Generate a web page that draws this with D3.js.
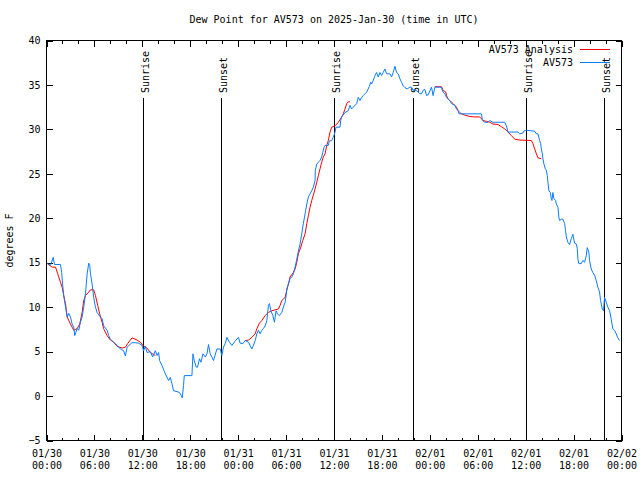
<!DOCTYPE html>
<html>
<head>
<meta charset="utf-8">
<script src="https://cdn.jsdelivr.net/npm/d3@7"></script>
<style>
	body { margin: 0; background: #fff; }
	svg text { font-family: "DejaVu Sans Mono", monospace; font-size: 10px; fill: #000; }
</style>
</head>
<body>
<div id="chart"></div>
<script>
// hours since 2025-01-30 00:00 UTC
const START = Date.UTC(2025, 0, 30);

const obsHours = [0.09, 0.5, 0.84, 1.0, 1.75, 1.9, 2.0, 2.16, 2.25, 2.5, 2.59, 2.79, 3.0, 3.21, 3.41, 3.54, 3.84, 4.04, 4.25, 4.46,
	4.66, 4.88, 5.09, 5.29, 5.41, 5.5, 5.71, 5.91, 6.13, 6.34, 6.75, 6.96, 7.16, 7.59, 7.79, 8.0, 8.41, 8.84, 9.25, 9.66,
	9.88, 10.09, 10.7, 11.13, 11.54, 11.96, 12.16, 12.38, 12.59, 13.0, 13.29, 13.63, 13.84, 14.04, 14.16, 14.46, 14.88, 15.29, 15.5, 15.71,
	15.91, 16.34, 16.66, 16.88, 17.0, 17.16, 17.25, 18.21, 18.34, 18.5, 18.75, 18.91, 19.16, 19.34, 19.59, 19.88, 20.09, 20.29, 20.5, 20.71,
	20.91, 21.34, 21.75, 21.96, 22.16, 22.38, 22.59, 22.91, 23.21, 23.63, 24.04, 24.25, 24.59, 24.88, 25.29, 25.71, 25.91, 26.13, 26.34, 26.54,
	26.75, 26.96, 27.16, 27.38, 27.59, 27.79, 27.91, 28.09, 28.34, 28.54, 28.75, 28.91, 29.16, 29.46, 29.66, 29.88, 30.0, 30.09, 30.29, 30.5,
	30.71, 30.91, 31.13, 31.34, 31.54, 31.75, 31.96, 32.16, 32.38, 32.59, 32.79, 33.0, 33.21, 33.41, 33.63, 33.66, 33.84, 34.04, 34.25, 34.46,
	34.59, 34.75, 34.88, 35.29, 35.41, 35.71, 35.91, 36.13, 36.25, 36.75, 36.84, 36.96, 37.38, 37.79, 38.0, 38.21, 38.41, 38.84, 39.04, 39.25,
	39.46, 39.66, 39.88, 40.09, 40.41, 40.59, 40.71, 40.91, 41.13, 41.34, 41.54, 41.75, 41.96, 42.16, 42.38, 42.59, 43.0, 43.21, 43.41, 43.63,
	43.84, 44.04, 44.25, 44.46, 44.66, 44.88, 45.16, 45.5, 45.71, 45.91, 46.13, 46.54, 46.75, 46.96, 47.16, 47.38, 47.59, 47.79, 48.21, 48.41,
	48.63, 49.25, 49.46, 49.66, 49.88, 50.09, 50.29, 50.5, 50.71, 51.13, 51.34, 51.54, 51.66, 54.46, 54.59, 54.88, 55.29, 55.5, 55.91, 57.38,
	57.59, 57.79, 59.04, 59.25, 59.66, 59.75, 60.09, 61.13, 61.34, 61.54, 61.75, 61.88, 61.96, 62.09, 62.16, 62.29, 62.46, 62.59, 62.71, 62.79,
	62.91, 63.09, 63.21, 63.29, 63.41, 63.54, 63.75, 63.84, 64.04, 64.16, 64.25, 64.46, 64.66, 64.88, 65.0, 65.09, 65.29, 65.5, 65.71, 65.91,
	66.13, 66.34, 66.46, 66.54, 66.66, 66.96, 67.16, 67.38, 67.59, 67.71, 67.91, 68.0, 68.21, 68.41, 68.63, 68.84, 69.04, 69.25, 69.38, 69.59,
	69.75, 69.88, 70.09, 70.29, 70.5, 70.71, 70.91, 71.13, 71.34, 71.54, 71.75];

const obsValues = [14.95, 14.7, 15.6, 14.8, 14.8, 13.9, 12.7, 11.3, 10.75, 9.4, 8.9, 9.3, 8.9, 8.1, 7.75, 6.8, 7.6, 7.4, 8.3, 8.9,
	10.0, 11.5, 13.75, 14.95, 14.7, 13.8, 12.6, 11.1, 10.0, 9.4, 8.9, 8.7, 7.9, 7.4, 6.8, 6.4, 6.06, 5.7, 5.3, 5.1,
	4.5, 5.5, 6.0, 6.0, 5.95, 5.7, 5.1, 5.6, 4.9, 5.0, 4.4, 5.1, 4.56, 4.9, 4.0, 3.44, 2.5, 1.75, 2.1, 1.4,
	0.6, 0.5, 0.4, 0.06, -0.2, 1.2, 2.3, 2.3, 4.75, 4.0, 3.25, 3.25, 4.2, 3.8, 4.75, 4.4, 4.75, 5.8, 4.75, 4.4,
	4.0, 5.3, 5.3, 4.56, 5.5, 5.9, 6.6, 6.06, 5.7, 6.2, 6.6, 5.95, 5.9, 6.25, 6.06, 5.3, 5.7, 6.25, 7.0, 7.4,
	7.0, 7.4, 7.6, 7.9, 8.5, 10.2, 10.4, 9.6, 9.06, 8.3, 9.6, 9.25, 9.06, 9.4, 10.0, 10.56, 11.3, 12.07, 12.6, 13.2,
	13.4, 13.75, 14.5, 15.4, 16.3, 17.1, 18.25, 19.4, 20.5, 21.6, 22.4, 22.75, 23.1, 23.5, 24.25, 25.4, 26.1, 26.3, 26.5, 26.9,
	27.4, 28.0, 28.2, 28.2, 28.7, 28.75, 29.1, 29.7, 30.25, 30.25, 31.0, 31.4, 31.9, 32.1, 32.7, 32.3, 32.5, 32.9, 33.6, 33.25,
	33.6, 33.8, 34.0, 34.2, 34.8, 35.3, 35.1, 35.5, 36.06, 36.4, 35.9, 36.4, 36.06, 36.4, 36.8, 36.25, 36.25, 35.9, 36.4, 37.1,
	36.4, 36.25, 35.7, 35.3, 34.9, 34.7, 34.55, 34.75, 34.75, 34.4, 34.5, 34.2, 34.0, 34.0, 34.4, 34.5, 33.8, 33.9, 34.75, 33.8,
	34.75, 34.75, 34.7, 34.2, 34.0, 33.6, 33.4, 33.25, 32.9, 32.7, 32.3, 32.1, 31.75, 31.75, 31.0, 30.8, 30.8, 31.0, 30.8, 30.8,
	30.4, 29.7, 29.7, 29.5, 29.6, 29.8, 29.9, 29.8, 29.5, 29.5, 28.75, 28.4, 27.8, 27.25, 26.7, 26.1, 25.56, 25.4, 24.8, 24.06,
	23.1, 22.9, 22.2, 22.0, 22.9, 22.2, 22.0, 21.6, 21.25, 20.1, 19.75, 19.9, 19.9, 19.4, 18.6, 17.9, 17.3, 17.05, 17.7, 18.2,
	17.2, 17.1, 16.6, 15.4, 14.9, 14.9, 15.25, 15.06, 15.8, 16.7, 16.2, 15.25, 14.3, 13.9, 13.6, 13.0, 12.25, 11.7, 10.75, 9.8,
	9.6, 11.1, 10.56, 10.0, 9.6, 8.7, 7.57, 7.4, 7.0, 6.55, 6.25];

// analysis series, null = gap
const anaHours = [0.09, 0.71, 1.13, 1.41, 1.75, 1.96, 2.16, 2.38, 2.59, 3.0, 3.21, 3.41, 3.84, 4.16, 4.46, 4.66, 4.88, 5.29, 5.5, 5.91,
	6.13, 6.41, 6.66, 6.96, 7.16, 7.59, 8.0, 8.41, 8.84, 9.46, 9.88, 10.16, 10.5, 10.71, 11.34, 11.75, 12.16, 12.59, 13.0, 13.63,
	14.0,
	24.88, 25.29, 25.71, 26.13, 26.34, 26.66, 26.96, 27.38, 27.79, 28.21, 28.63, 29.04, 29.25, 29.46, 29.88, 30.09, 30.29, 30.5, 30.91,
	31.13, 31.34, 31.54, 31.84, 32.09, 32.38, 32.59, 32.79, 33.0, 33.21, 33.41, 33.63, 33.84, 34.04, 34.25, 34.46, 34.66, 34.88, 35.09, 35.29,
	35.5, 35.71, 36.13, 36.54, 36.96, 37.16, 37.38, 37.59, 37.79, 38.0,
	44.0,
	48.63, 49.46, 49.66, 50.0, 50.09, 50.29, 50.5, 50.71, 50.91, 51.13, 51.34, 51.54, 51.75, 51.96, 52.38, 53.0, 53.63, 54.25, 54.66, 55.09,
	55.5, 55.91, 56.54, 56.96, 57.38, 57.79, 58.21, 58.63, 59.25, 60.71, 60.91, 61.13, 61.34, 61.54, 61.96];

const anaValues = [14.9, 14.5, 14.5, 13.75, 12.8, 12.25, 11.3, 10.4, 8.9, 8.1, 7.75, 7.4, 7.6, 8.1, 9.4, 10.75, 11.3, 11.7, 11.95, 11.95,
	11.3, 10.2, 9.25, 8.3, 7.57, 6.8, 6.3, 6.06, 5.6, 5.4, 5.5, 5.9, 6.3, 6.55, 6.3, 6.06, 5.6, 5.4, 4.9, 4.56,
	null,
	6.25, 6.3, 6.6, 7.0, 7.57, 8.2, 8.5, 9.06, 9.4, 9.6, 9.7, 9.8, 10.2, 10.75, 11.1, 11.9, 12.6, 13.4, 13.9,
	14.3, 15.06, 16.0, 16.75, 17.5, 18.25, 19.4, 20.3, 21.25, 22.0, 22.6, 23.3, 24.06, 24.8, 25.56, 26.3, 26.9, 27.25, 28.2, 28.75,
	29.7, 30.25, 30.4, 30.8, 31.4, 31.75, 32.3, 32.9, 33.1, 33.1,
	null,
	34.8, 34.8, 34.4, 34.2, 33.8, 33.4, 33.25, 33.06, 32.9, 32.7, 32.5, 32.1, 31.9, 31.75, 31.6, 31.45, 31.4, 31.4, 31.0, 30.9,
	30.8, 30.6, 30.55, 30.3, 30.06, 29.7, 29.3, 28.9, 28.8, 28.75, 28.4, 27.8, 27.25, 26.8, 26.7];

const sunriseHours = [12.1, 36.05, 60.1];
const sunsetHours = [21.9, 45.9, 69.8];
const yTicks = [-5, 0, 5, 10, 15, 20, 25, 30, 35, 40];

const TITLE = 'Dew Point for AV573 on 2025-Jan-30 (time in UTC)';
const COLORS = { obs: '#0a7cff', ana: '#ff0000' };

const W = 640, H = 480;
const M = { L: 46.5, R: 18.5, T: 40.5, B: 39.5 };

const toDate = h => new Date(START + h * 3600e3);
const obs = obsHours.map((h, i) => ({ t: toDate(h), v: obsValues[i] }));
const ana = anaHours.map((h, i) => ({ t: toDate(h), v: anaValues[i] }));

const svg = d3.select('#chart').append('svg')
	.attr('width', W)
	.attr('height', H)
	.attr('shape-rendering', 'crispEdges');

const x = d3.scaleUtc()
	.domain([toDate(0), toDate(72)])
	.range([M.L, W - M.R]);
const y = d3.scaleLinear()
	.domain([-5, 40])
	.range([H - M.B, M.T]);

// title + y label
svg.append('text')
	.attr('x', (M.L + W - M.R) / 2).attr('y', 20)
	.attr('text-anchor', 'middle').attr('dominant-baseline', 'middle')
	.text(TITLE);
svg.append('text')
	.attr('transform', 'translate(10,' + (M.T + H - M.B) / 2 + ') rotate(-90)')
	.attr('text-anchor', 'middle').attr('dominant-baseline', 'middle')
	.text('degrees F');

// axes, gnuplot style: inward ticks, mirrored
const minor = d3.utcHour.every(2).range(toDate(0), toDate(72.1));
const major = d3.utcHour.every(6).range(toDate(0), toDate(72.1));

svg.append('g')
	.attr('transform', 'translate(0,' + (H - M.B) + ')')
	.call(d3.axisBottom(x).tickValues(minor).tickSizeInner(-3).tickSizeOuter(0).tickFormat(''))
	.call(g => g.select('.domain').remove());
svg.append('g')
	.attr('transform', 'translate(0,' + M.T + ')')
	.call(d3.axisTop(x).tickValues(minor).tickSizeInner(-3).tickSizeOuter(0).tickFormat(''))
	.call(g => g.select('.domain').remove());
svg.append('g')
	.attr('transform', 'translate(0,' + M.T + ')')
	.call(d3.axisTop(x).tickValues(major).tickSizeInner(-6).tickSizeOuter(0).tickFormat(''))
	.call(g => g.select('.domain').remove());

const xAxis = svg.append('g')
	.attr('transform', 'translate(0,' + (H - M.B) + ')')
	.call(d3.axisBottom(x).tickValues(major).tickSizeInner(-6).tickSizeOuter(0).tickPadding(9).tickFormat(''))
	.call(g => g.select('.domain').remove());
xAxis.selectAll('.tick text').each(function(d) {
	const t = d3.select(this).attr('dy', null).attr('y', 16);
	t.append('tspan').attr('x', 0).text(d3.utcFormat('%m/%d')(d));
	t.append('tspan').attr('x', 0).attr('dy', 12).text(d3.utcFormat('%H:%M')(d));
});

svg.append('g')
	.attr('transform', 'translate(' + M.L + ',0)')
	.call(d3.axisLeft(y).tickValues(yTicks).tickSizeInner(-6).tickSizeOuter(0).tickPadding(6))
	.call(g => g.select('.domain').remove());
svg.append('g')
	.attr('transform', 'translate(' + (W - M.R) + ',0)')
	.call(d3.axisRight(y).tickValues(yTicks).tickSizeInner(-6).tickSizeOuter(0).tickFormat(''))
	.call(g => g.select('.domain').remove());

svg.selectAll('.tick line').attr('stroke', '#000');
svg.selectAll('.tick text').style('font-family', '"DejaVu Sans Mono", monospace').style('font-size', '10px').attr('fill', '#000');

// sunrise / sunset markers
const sun = sunriseHours.map(h => ({ h, label: 'Sunrise' }))
	.concat(sunsetHours.map(h => ({ h, label: 'Sunset' })));
const sunG = svg.append('g').selectAll('g').data(sun).enter().append('g')
	.attr('transform', d => 'translate(' + Math.round(x(toDate(d.h))) + ',0)');
sunG.append('line')
	.attr('x1', 0.5).attr('x2', 0.5)
	.attr('y1', 98).attr('y2', H - M.B)
	.attr('stroke', '#000');
sunG.append('text')
	.attr('transform', 'translate(3,93) rotate(-90)')
	.attr('dominant-baseline', 'middle')
	.text(d => d.label);

// series
const line = d3.line()
	.defined(d => d.v != null)
	.x(d => x(d.t))
	.y(d => y(d.v));

svg.append('path').datum(ana)
	.attr('d', line)
	.attr('fill', 'none').attr('stroke', COLORS.ana).attr('stroke-width', 1)
	.attr('shape-rendering', 'auto');
svg.append('path').datum(obs)
	.attr('d', line)
	.attr('fill', 'none').attr('stroke', COLORS.obs).attr('stroke-width', 1)
	.attr('shape-rendering', 'auto');

// legend
const legend = [{ name: 'AV573 Analysis', c: COLORS.ana }, { name: 'AV573', c: COLORS.obs }];
const lg = svg.append('g').selectAll('g').data(legend).enter().append('g')
	.attr('transform', (d, i) => 'translate(0,' + (50 + i * 13) + ')');
lg.append('text')
	.attr('x', 573).attr('text-anchor', 'end').attr('dominant-baseline', 'middle')
	.text(d => d.name);
lg.append('line')
	.attr('x1', 580).attr('x2', 610).attr('y1', -0.5).attr('y2', -0.5)
	.attr('stroke', d => d.c);

// plot border
svg.append('rect')
	.attr('x', M.L).attr('y', M.T)
	.attr('width', W - M.R - M.L).attr('height', H - M.B - M.T)
	.attr('fill', 'none').attr('stroke', '#000');
</script>
</body>
</html>
